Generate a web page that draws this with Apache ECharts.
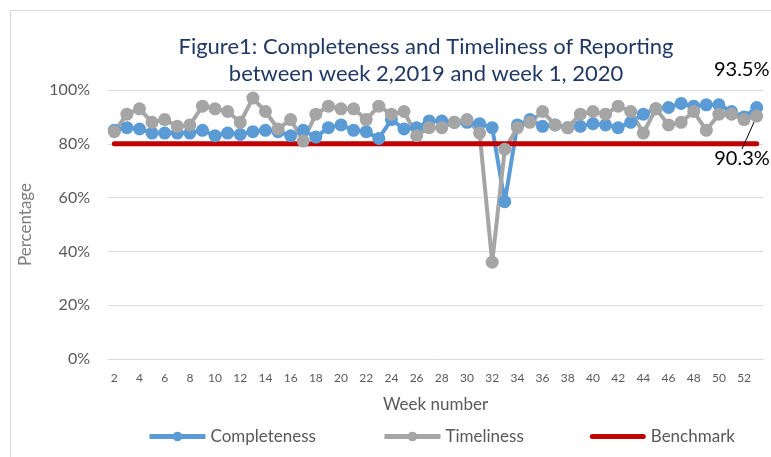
<!DOCTYPE html>
<html>
<head>
    <meta charset="utf-8">
    <title>Completeness and Timeliness</title>
    <script src="https://cdn.jsdelivr.net/npm/echarts@6/dist/echarts.min.js"></script>
    <style>
        html, body { margin: 0; padding: 0; background: #fff; }
    </style>
</head>
<body>
    <div id="main" style="width: 771px;height:457px;"></div>
    <script type="text/javascript">
        // week numbers 2..53
        var weeks = ['2','3','4','5','6','7','8','9','10','11','12','13','14','15','16','17','18','19','20','21',
                     '22','23','24','25','26','27','28','29','30','31','32','33','34','35','36','37','38','39','40','41',
                     '42','43','44','45','46','47','48','49','50','51','52','53'];
        var completeness = [85, 86, 85.5, 84, 84, 84, 84, 85, 83, 84, 83.5, 84.5, 85, 84.5, 83, 85, 82.5, 86, 87, 85,
                            84.5, 82, 89, 85.5, 86, 88.5, 88.5, 88, 88, 87.5, 86, 58.5, 87, 89, 86.5, 87, 86, 86.5, 87.5, 87,
                            86, 88, 91, 93, 93.5, 95, 94, 94.5, 94.5, 92, 90, 93.5];
        var timeliness = [84.5, 91, 93, 88, 89, 86.5, 87, 94, 93, 92, 88, 97, 92, 85.5, 89, 81, 91, 94, 93, 93,
                          89, 94, 91, 92, 83, 86, 86, 88, 89, 84, 36, 78, 86, 88, 92, 87, 86, 91, 92, 91,
                          94, 92, 84, 93, 87, 88, 92, 85, 91, 91, 89, 90.3];
        var benchmark = weeks.map(function () { return 80; });

        var myChart = echarts.init(document.getElementById('main'));
        var font = 'Lato';
        var last = weeks.length - 1;

        var option = {
            animation: false,
            textStyle: { fontFamily: font },
            title: {
                text: 'Figure1: Completeness and Timeliness of Reporting\nbetween week 2,2019 and week 1, 2020',
                left: 421,
                top: 28,
                textAlign: 'center',
                textStyle: { color: '#1f3864', fontSize: 22, fontWeight: 'normal', lineHeight: 27, fontFamily: font }
            },
            graphic: [{
                type: 'rect',
                shape: { x: 10.5, y: 10.5, width: 800, height: 600 },
                style: { fill: 'none', stroke: '#d9d9d9', lineWidth: 1 },
                silent: true
            }],
            legend: {
                bottom: 7,
                left: 142,
                itemGap: 66,
                itemWidth: 56,
                itemHeight: 12,
                lineStyle: { width: 5 },
                textStyle: { color: '#595959', fontSize: 17, fontFamily: font },
                data: ['Completeness', 'Timeliness', {
                    name: 'Benchmark',
                    icon: 'path://M2.5,0 L53.5,0 A2.5,2.5 0 0 1 53.5,5 L2.5,5 A2.5,2.5 0 0 1 2.5,0 Z'
                }]
            },
            grid: { left: 108, right: 8, top: 90, bottom: 98 },
            xAxis: {
                type: 'category',
                data: weeks,
                name: 'Week number',
                nameLocation: 'middle',
                nameGap: 37,
                nameTextStyle: { color: '#595959', fontSize: 17 },
                axisLine: { lineStyle: { color: '#d9d9d9' } },
                axisTick: { show: false },
                axisLabel: { interval: 1, color: '#595959', fontSize: 12, margin: 13 }
            },
            yAxis: {
                type: 'value',
                min: 0,
                max: 100,
                interval: 20,
                name: 'Percentage',
                nameLocation: 'middle',
                nameGap: 74,
                nameTextStyle: { color: '#7f7f7f', fontSize: 17 },
                axisLabel: { formatter: '{value}%', color: '#595959', fontSize: 16, margin: 18 },
                splitLine: { lineStyle: { color: '#d9d9d9' } }
            },
            series: [
                {
                    name: 'Completeness',
                    type: 'line',
                    showAllSymbol: true,
                    data: completeness.map(function (v, i) {
                        if (i !== last) return v;
                        return {
                            value: v,
                            label: { show: true, position: 'top', offset: [-15, -16], formatter: '{c}%',
                                     color: '#000', fontSize: 20 }
                        };
                    }),
                    symbol: 'circle',
                    symbolSize: 13,
                    itemStyle: { color: '#5b9bd5' },
                    lineStyle: { color: '#5b9bd5', width: 4 }
                },
                {
                    name: 'Timeliness',
                    type: 'line',
                    showAllSymbol: true,
                    data: timeliness.map(function (v, i) {
                        if (i !== last) return v;
                        return {
                            value: v,
                            label: { show: true, position: 'bottom', formatter: '{c}%',
                                     color: '#000', fontSize: 20 }
                        };
                    }),
                    symbol: 'circle',
                    symbolSize: 13,
                    itemStyle: { color: '#a5a5a5' },
                    lineStyle: { color: '#a5a5a5', width: 4 },
                    labelLine: { show: true, lineStyle: { color: '#000', width: 1 } },
                    labelLayout: function (params) {
                        if (params.dataIndex !== last) return {};
                        return { x: 742, y: 159, align: 'center', verticalAlign: 'middle' };
                    }
                },
                {
                    name: 'Benchmark',
                    type: 'line',
                    data: benchmark,
                    symbol: 'none',
                    itemStyle: { color: '#c00000' },
                    lineStyle: { color: '#c00000', width: 5, cap: 'round' }
                }
            ]
        };

        myChart.setOption(option);
    </script>
</body>
</html>
